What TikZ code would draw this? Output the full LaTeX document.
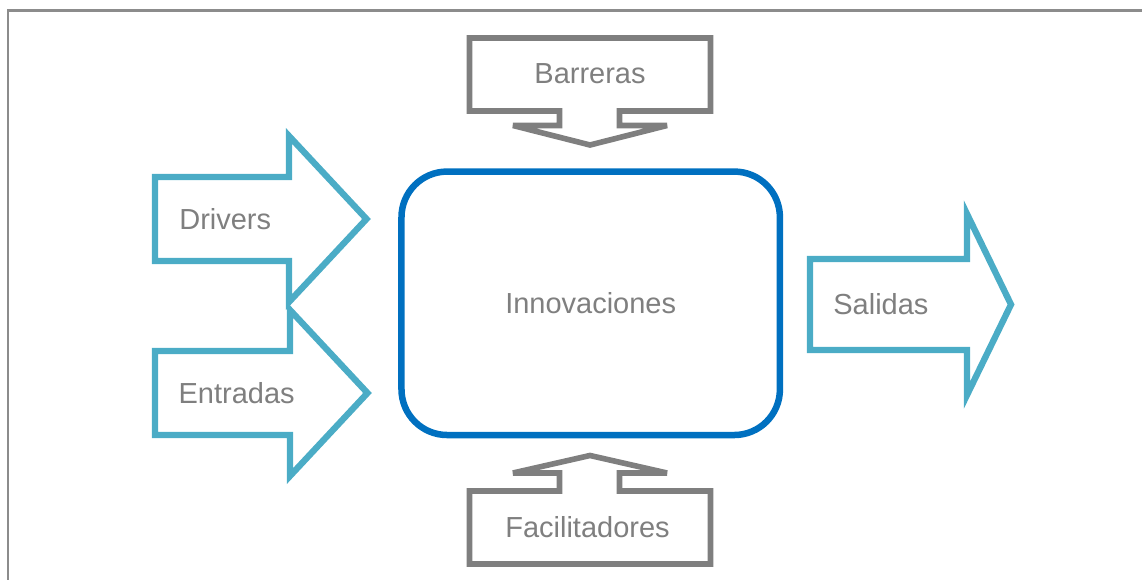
\documentclass[tikz,border=0pt]{standalone}
\usepackage{fontspec}
\setmainfont{Liberation Sans}
\usepackage{tikz}
\definecolor{aqua}{HTML}{4BACC6}
\definecolor{azul}{HTML}{0070C0}
\definecolor{gris}{HTML}{7F7F7F}

\begin{document}
\begin{tikzpicture}[x=0.02cm,y=-0.02cm,
  lbl/.style={text=gris,inner sep=0pt,font=\fontsize{16.5}{19}\selectfont},
  aquaarrow/.style={draw=aqua,line width=3.6pt},
  grayarrow/.style={draw=gris,line width=3.2pt,miter limit=4}]
\useasboundingbox (0,0) rectangle (1142,580);
\draw[gris!90,line width=1.2pt] (1142,10.5) -- (8.3,10.5) -- (8.3,580);
% centre
\node[lbl,draw=azul,line width=3.7pt,rounded corners=26pt,minimum width=7.57cm,minimum height=5.27cm] (innov) at (590.7,303.3) {Innovaciones};
% entradas a la izquierda
\draw[aquaarrow] (155,177) -- (289,177) -- (289,136) -- (366.5,219) -- (289,302) -- (289,261) -- (155,261) -- cycle;
\node[lbl,anchor=west] (drv) at (179,219) {Drivers};
\draw[aquaarrow] (155,351) -- (290,351) -- (290,310) -- (367.5,393) -- (290,476) -- (290,435) -- (155,435) -- cycle;
\node[lbl,anchor=west] (ent) at (178.3,393.5) {Entradas};
% salida
\draw[aquaarrow] (810,259) -- (967,259) -- (967,214) -- (1011,304.5) -- (967,395) -- (967,350) -- (810,350) -- cycle;
\node[lbl,anchor=west] (sal) at (833,304) {Salidas};
% arriba y abajo
\draw[grayarrow] (469.5,38) -- (710.5,38) -- (710.5,111) -- (619.5,111) -- (619.5,125.5) -- (667,125.5) -- (590,145) -- (513,125.5) -- (559.5,125.5) -- (559.5,111) -- (469.5,111) -- cycle;
\node[lbl] (bar) at (590,73.7) {Barreras};
\draw[grayarrow] (469.5,564) -- (469.5,491) -- (559.5,491) -- (559.5,473) -- (513,473) -- (590,455.5) -- (667,473) -- (619.5,473) -- (619.5,491) -- (710.5,491) -- (710.5,564) -- cycle;
\node[lbl] (fac) at (587.5,527) {Facilitadores};
\end{tikzpicture}
\end{document}
